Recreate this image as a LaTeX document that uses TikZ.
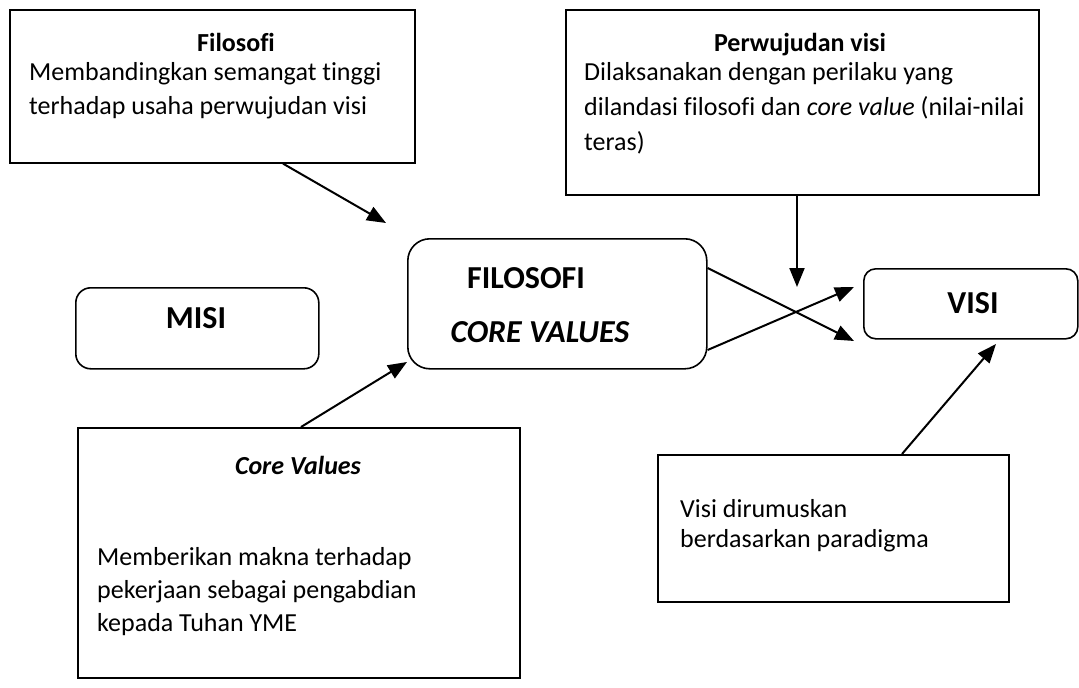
\documentclass[tikz,border=0pt]{standalone}
\usepackage{fontspec}
\setmainfont{Carlito}[Ligatures={NoCommon}]
\usetikzlibrary{arrows.meta,calc}
\newcommand\bodyfs{\fontsize{26}{34}\selectfont}
\newcommand\bigfs{\fontsize{32}{38}\selectfont}
\begin{document}
\begin{tikzpicture}[x=1pt,y=-1pt,
 frame/.style={draw,line width=1.6pt,inner sep=0pt,anchor=north west},
 rframe/.style={frame,rounded corners=#1},
 body/.style={inner sep=0pt,anchor=base west,font=\bodyfs},
 head/.style={inner sep=0pt,anchor=base,font=\bodyfs\bfseries},
 big/.style={inner sep=0pt,anchor=base,font=\bigfs\bfseries},
 arr/.style={line width=2pt,-{Triangle[length=19pt,width=15pt]}}]
\useasboundingbox (0,0) rectangle (1079,688);
% top left box
\node[frame,minimum width=405pt,minimum height=153pt] (fb) at (9,9) {};
\node[head] (fbt) at (236,51) {Filosofi};
\node[body] (fb1) at (29,80) {Membandingkan semangat tinggi};
\node[body] (fb2) at (29,114) {terhadap usaha perwujudan visi};
% top right box
\node[frame,minimum width=473pt,minimum height=185pt] (pb) at (565,9) {};
\node[head] (pbt) at (800,51) {Perwujudan visi};
\node[body] (pb1) at (584,80) {Dilaksanakan dengan perilaku yang};
\node[body] (pb2) at (584,115) {dilandasi filosofi dan \textit{core value} (nilai-nilai};
\node[body] (pb3) at (584,150) {teras)};
% MISI
\node[rframe=15pt,minimum width=243pt,minimum height=81pt] (mb) at (75,287) {};
\node[big] (mt) at (196,328) {MISI};
% FILOSOFI
\node[rframe=22pt,minimum width=299pt,minimum height=130pt] (fc) at (407,238) {};
\node[big] (fct1) at (526,288) {FILOSOFI};
\node[big] (fct2) at (540,342) {\textit{CORE VALUES}};
% VISI
\node[rframe=12pt,minimum width=214pt,minimum height=70pt] (vb) at (863,268) {};
\node[big] (vt) at (973,313) {VISI};
% Core values box
\node[frame,minimum width=442pt,minimum height=250pt] (cb) at (77,427) {};
\node[head] (cbt) at (298,474) {\itshape Core Values};
\node[body] (cb1) at (97,565) {Memberikan makna terhadap};
\node[body] (cb2) at (97,598) {pekerjaan sebagai pengabdian};
\node[body] (cb3) at (97,631) {kepada Tuhan YME};
% Visi dirumuskan box
\node[frame,minimum width=351pt,minimum height=147pt] (vd) at (657,454) {};
\node[body] (vd1) at (680,517) {Visi dirumuskan};
\node[body] (vd2) at (680,547) {berdasarkan paradigma};
% arrow tips
\coordinate (t1) at (386,223);
\coordinate (t2) at (797,287);
\coordinate (t3) at (854,341);
\coordinate (t4) at (854,287);
\coordinate (t5) at (407,362);
\coordinate (t6) at (996,344);
\draw[arr] ($(fb.south west)+(274,0)$) -- (t1);
\draw[arr] ($(pb.south west)+(232,0)$) -- (t2);
\draw[arr] ($(fc.north east)+(0,30)$) -- (t3);
\draw[arr] ($(fc.north east)+(0,112)$) -- (t4);
\draw[arr] ($(cb.north west)+(224,0)$) -- (t5);
\draw[arr] ($(vd.north west)+(245,0)$) -- (t6);
\end{tikzpicture}
\end{document}
